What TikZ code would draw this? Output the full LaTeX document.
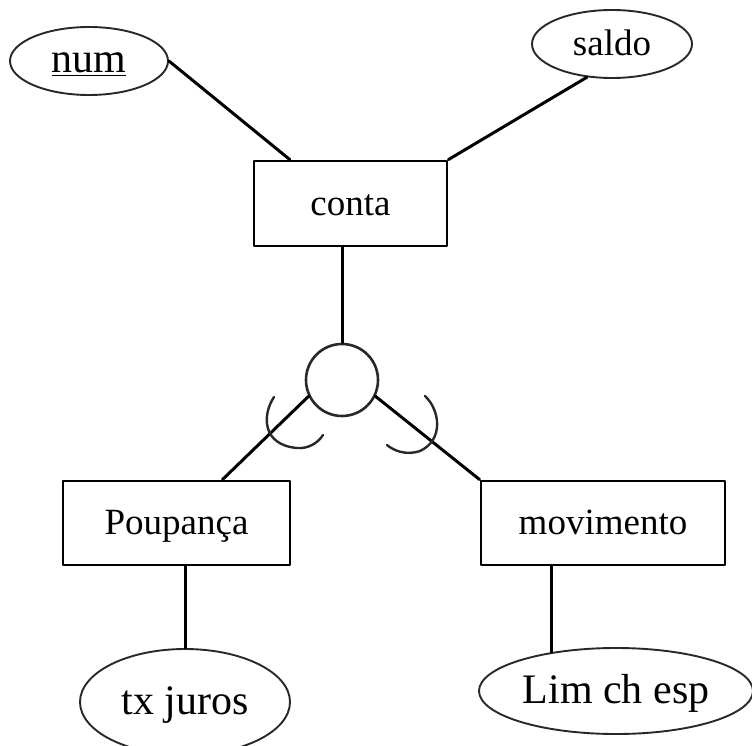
\documentclass[tikz,border=0pt]{standalone}
\usepackage{fontspec}
\setmainfont{Liberation Serif}
\usetikzlibrary{shapes.geometric,calc}
\definecolor{erGray}{RGB}{40, 40, 40}

\begin{document}
\begin{tikzpicture}[x=1pt, y=-1pt, line cap=round, line join=round,
        entity/.style={draw=black, line width=2.8pt, rectangle, inner sep=0pt,
            minimum height=84pt, text height=31pt, text depth=8pt,
            font=\fontsize{37}{40}\selectfont},
        attrib/.style={draw=erGray, line width=1.9pt, ellipse, inner sep=0pt,
            text height=34pt, text depth=10pt},
        link/.style={draw=black, line width=3pt}]
        \useasboundingbox (0,0) rectangle (752,746);
        % entities
        \node[entity, minimum width=193pt, minimum height=85pt] (conta) at (350.5,203.5) {conta};
        \node[entity, minimum width=227pt] (poupanca) at (176.5,523) {Poupança};
        \node[entity, minimum width=244pt] (movimento) at (603,523) {movimento};
        % attributes
        \node[attrib, minimum width=158pt, minimum height=68pt, font=\fontsize{42}{46}\selectfont] (num) at (89,61) {\underline{num}};
        \node[attrib, minimum width=160pt, minimum height=68pt, font=\fontsize{37}{40}\selectfont] (saldo) at (612,44) {saldo};
        \node[attrib, minimum width=210pt, minimum height=106pt, font=\fontsize{42}{46}\selectfont] (txjuros) at (185,702) {tx juros};
        \node[attrib, minimum width=274pt, minimum height=86pt, font=\fontsize{42}{46}\selectfont] (limchesp) at (616,691) {Lim ch esp};
        % specialization
        \node[draw=erGray, line width=2.6pt, circle, minimum size=72pt, inner sep=0pt] (isa) at (342,380) {};
        \draw[link] (num.east) -- ($(conta.north west)!0.19!(conta.north east)$);
        \draw[link] (saldo.233) -- (conta.north east);
        \draw[link] (isa.north) -- (isa.north |- conta.south);
        \draw[link] (isa.206) -- ($(poupanca.north west)!0.70!(poupanca.north east)$);
        \draw[link] (isa.334) -- (movimento.north west);
        \draw[link] (txjuros.north) -- (txjuros.north |- poupanca.south);
        \draw[link] (limchesp.149) -- (limchesp.149 |- movimento.south);
        % subset marks
        \draw[erGray, line width=2.4pt] (274,397) .. controls (262,415) and (262,445) .. (297,448)
            .. controls (308,449) and (318,443) .. (323,435);
        \draw[erGray, line width=2.4pt] (425,396) .. controls (440,410) and (444,440) .. (420,451)
            .. controls (405,456) and (393,450) .. (387,445);
    \end{tikzpicture}
\end{document}
